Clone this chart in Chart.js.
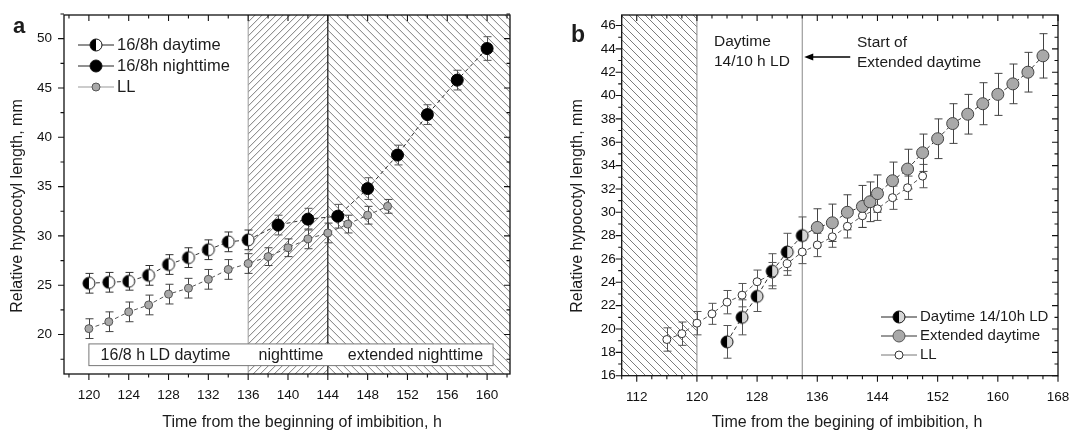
<!DOCTYPE html>
<html>
<head>
<meta charset="utf-8">
<script src="https://cdn.jsdelivr.net/npm/chart.js@4.4.1/dist/chart.umd.min.js"></script>
<style>
  html, body { margin: 0; padding: 0; background: #fff; }
  #wrap { position: relative; width: 1070px; height: 432px; }
  canvas { position: absolute; top: 0; }
</style>
</head>
<body>
<div id="wrap">
  <canvas id="chartA" width="535" height="432" style="left:0"></canvas>
  <canvas id="chartB" width="535" height="432" style="left:535px"></canvas>
</div>
<script>
// ---- panel a : 16/8 h LD ----
var timeDayA = [120, 122, 124, 126, 128, 130, 132, 134, 136];
var lenDayA  = [25.2, 25.3, 25.4, 26.0, 27.1, 27.8, 28.6, 29.4, 29.6];
var errDayA  = [1.0, 1.0, 0.9, 1.0, 1.0, 1.0, 1.0, 1.0, 1.0];
var timeNightA = [139, 142, 145, 148, 151, 154, 157, 160];
var lenNightA  = [31.1, 31.7, 32.0, 34.8, 38.2, 42.3, 45.8, 49.0];
var errNightA  = [1.0, 1.1, 1.2, 1.1, 1.0, 1.0, 1.0, 1.2];
var timeLLA = [120, 122, 124, 126, 128, 130, 132, 134, 136, 138, 140, 142, 144, 146, 148, 150];
var lenLLA  = [20.6, 21.3, 22.3, 23.0, 24.1, 24.7, 25.6, 26.6, 27.2, 27.9, 28.8, 29.7, 30.3, 31.2, 32.1, 33.0];
var errLLA  = [1.0, 1.0, 1.0, 1.0, 1.0, 1.0, 1.0, 1.0, 1.0, 0.9, 0.9, 1.0, 1.0, 0.9, 0.9, 0.7];
var xTicksA = [120, 124, 128, 132, 136, 140, 144, 148, 152, 156, 160];
var yTicksA = [20, 25, 30, 35, 40, 45, 50];
var legendA = ['16/8h daytime', '16/8h nighttime', 'LL'];
var periodsA = ['16/8 h LD daytime', 'nighttime', 'extended nighttime'];

// ---- panel b : 14/10 h LD ----
var timeDayB = [124, 126, 128, 130, 132, 134];
var lenDayB  = [18.9, 21.0, 22.8, 24.95, 26.6, 28.0];
var errDayB  = [1.4, 1.5, 1.3, 1.5, 1.6, 1.6];
var timeExtB = [136, 138, 140, 142, 143, 144, 146, 148, 150, 152, 154, 156, 158, 160, 162, 164, 166];
var lenExtB  = [28.7, 29.1, 30.0, 30.5, 30.9, 31.6, 32.7, 33.7, 35.1, 36.3, 37.6, 38.4, 39.3, 40.1, 41.0, 42.0, 43.4];
var errExtB  = [1.6, 1.6, 1.5, 1.8, 1.7, 1.6, 1.6, 1.7, 1.6, 1.7, 1.7, 1.7, 1.8, 1.8, 1.7, 1.7, 1.9];
var timeLLB = [116, 118, 120, 122, 124, 126, 128, 130, 132, 134, 136, 138, 140, 142, 144, 146, 148, 150];
var lenLLB  = [19.1, 19.6, 20.5, 21.3, 22.3, 22.9, 24.05, 24.7, 25.6, 26.6, 27.2, 27.9, 28.8, 29.7, 30.3, 31.25, 32.1, 33.1];
var errLLB  = [1.0, 1.0, 1.0, 0.9, 1.0, 1.0, 1.0, 1.0, 1.0, 1.0, 1.0, 0.9, 1.0, 1.0, 1.0, 1.0, 1.0, 1.0];
var xTicksB = [112, 120, 128, 136, 144, 152, 160, 168];
var yTicksB = [16, 18, 20, 22, 24, 26, 28, 30, 32, 34, 36, 38, 40, 42, 44, 46];
var legendB = ['Daytime 14/10h LD', 'Extended daytime', 'LL'];

var FONT = "'Liberation Sans', Arial, sans-serif";
var INK = '#1c1c1c';

function xy(t, v) {
  return t.map(function(x, i) { return { x: x, y: v[i] }; });
}

function steps(from, to, step) {
  var out = [];
  for (var v = from; v <= to + 1e-9; v += step) out.push(v);
  return out;
}

function drawMarker(ctx, kind, x, y, r) {
  ctx.save();
  ctx.lineWidth = 1;
  ctx.strokeStyle = '#111';
  ctx.beginPath();
  ctx.arc(x, y, r, 0, 2 * Math.PI);
  if (kind == 'half' || kind == 'halfGray') {
    ctx.fillStyle = kind == 'half' ? '#fff' : '#d6d6d6';
    ctx.fill();
    ctx.beginPath();
    ctx.arc(x, y, r, Math.PI / 2, 3 * Math.PI / 2);
    ctx.closePath();
    ctx.fillStyle = '#000';
    ctx.fill();
    ctx.beginPath();
    ctx.arc(x, y, r, 0, 2 * Math.PI);
  } else if (kind == 'black') {
    ctx.fillStyle = '#000';
    ctx.fill();
  } else if (kind == 'gray') {
    ctx.fillStyle = '#a9a9a9';
    ctx.strokeStyle = '#555';
    ctx.fill();
  } else {
    ctx.fillStyle = '#fff';
    ctx.strokeStyle = '#333';
    ctx.fill();
  }
  ctx.stroke();
  ctx.restore();
}

function markerCanvas(kind, r) {
  var c = document.createElement('canvas');
  c.width = c.height = 2 * r + 4;
  drawMarker(c.getContext('2d'), kind, r + 2, r + 2, r);
  return c;
}

function hatch(ctx, area, x1, x2, dir, gap) {
  var h = area.bottom - area.top;
  ctx.save();
  ctx.beginPath();
  ctx.rect(x1, area.top, x2 - x1, h);
  ctx.clip();
  ctx.strokeStyle = '#5a5a5a';
  ctx.lineWidth = 0.8;
  ctx.beginPath();
  for (var c = x1 - h; c <= x2 + h; c += gap) {
    if (dir > 0) { ctx.moveTo(c, area.bottom); ctx.lineTo(c + h, area.top); }
    else { ctx.moveTo(c, area.top); ctx.lineTo(c + h, area.bottom); }
  }
  ctx.stroke();
  ctx.restore();
}

function vline(chart, t, color, w) {
  var ctx = chart.ctx, a = chart.chartArea, px = chart.scales.x.getPixelForValue(t);
  ctx.save();
  ctx.strokeStyle = color;
  ctx.lineWidth = w;
  ctx.beginPath();
  ctx.moveTo(px, a.top);
  ctx.lineTo(px, a.bottom);
  ctx.stroke();
  ctx.restore();
}

function errorBars(chart, t, v, e, color) {
  var ctx = chart.ctx, xs = chart.scales.x, ys = chart.scales.y;
  ctx.save();
  ctx.strokeStyle = color;
  ctx.lineWidth = 1;
  ctx.beginPath();
  t.forEach(function(x, i) {
    var px = Math.round(xs.getPixelForValue(x)) + 0.5;
    var y1 = ys.getPixelForValue(v[i] + e[i]), y2 = ys.getPixelForValue(v[i] - e[i]);
    ctx.moveTo(px, y1); ctx.lineTo(px, y2);
    ctx.moveTo(px - 4, y1); ctx.lineTo(px + 4, y1);
    ctx.moveTo(px - 4, y2); ctx.lineTo(px + 4, y2);
  });
  ctx.stroke();
  ctx.restore();
}

// frame box with major/minor ticks: outward on bottom/left, inward on top/right
function frame(chart, xMajor, xMinor, yMajor, yMinor) {
  var ctx = chart.ctx, a = chart.chartArea, xs = chart.scales.x, ys = chart.scales.y;
  ctx.save();
  ctx.strokeStyle = '#111';
  ctx.lineWidth = 1.3;
  ctx.strokeRect(a.left, a.top, a.right - a.left, a.bottom - a.top);
  ctx.lineWidth = 1.1;
  ctx.beginPath();
  xMinor.forEach(function(v) {
    var L = xMajor.indexOf(v) >= 0 ? 6 : 3.5, px = xs.getPixelForValue(v);
    ctx.moveTo(px, a.bottom); ctx.lineTo(px, a.bottom + L);
    ctx.moveTo(px, a.top); ctx.lineTo(px, a.top + L);
  });
  yMinor.forEach(function(v) {
    var L = yMajor.indexOf(v) >= 0 ? 6 : 3.5, py = ys.getPixelForValue(v);
    ctx.moveTo(a.left, py); ctx.lineTo(a.left - L, py);
    ctx.moveTo(a.right, py); ctx.lineTo(a.right - L, py);
  });
  ctx.stroke();
  ctx.restore();
}

function text(ctx, s, x, y, size, opts) {
  opts = opts || {};
  ctx.save();
  ctx.fillStyle = INK;
  ctx.font = (opts.bold ? 'bold ' : '') + size + 'px ' + FONT;
  ctx.textAlign = opts.align || 'left';
  ctx.textBaseline = opts.baseline || 'alphabetic';
  ctx.translate(x, y);
  if (opts.rotate) ctx.rotate(opts.rotate);
  ctx.fillText(s, 0, 0);
  ctx.restore();
}

function legend(ctx, labels, kinds, radii, lineColors, x, y0, dy, size) {
  labels.forEach(function(lab, i) {
    var y = y0 + i * dy;
    ctx.save();
    ctx.strokeStyle = lineColors[i];
    ctx.lineWidth = 1;
    ctx.beginPath();
    ctx.moveTo(x, y); ctx.lineTo(x + 36, y);
    ctx.stroke();
    ctx.restore();
    drawMarker(ctx, kinds[i], x + 18, y, radii[i]);
    text(ctx, lab, x + 39, y, size, { baseline: 'middle' });
  });
}

function scaleOpts(min, max, ticks, fit, pad) {
  return {
    type: 'linear', min: min, max: max,
    afterBuildTicks: function(s) { s.ticks = ticks.map(function(v) { return { value: v }; }); },
    afterFit: function(s) {
      fit(s);
      // keep the plot box fixed: no extra room for overhanging end labels
      s.paddingLeft = s.paddingRight = s.paddingTop = s.paddingBottom = 0;
    },
    grid: { display: false, drawTicks: false },
    border: { display: false },
    ticks: { padding: pad, color: '#111', font: { family: FONT, size: 13.5 } }
  };
}

var halfWhite = markerCanvas('half', 6);
var halfGray = markerCanvas('halfGray', 6);

var decorA = {
  id: 'decorA',
  beforeDatasetsDraw: function(chart) {
    var ctx = chart.ctx, a = chart.chartArea, xs = chart.scales.x, ys = chart.scales.y;
    hatch(ctx, a, xs.getPixelForValue(136), xs.getPixelForValue(144), 1, 7);
    hatch(ctx, a, xs.getPixelForValue(144), a.right, -1, 8);
    vline(chart, 136, '#9a9a9a', 1);
    vline(chart, 144, '#111', 1.2);
    // period label box
    var bx1 = xs.getPixelForValue(120), bx2 = xs.getPixelForValue(160.6);
    var by1 = ys.getPixelForValue(19.05), by2 = ys.getPixelForValue(16.85);
    ctx.save();
    ctx.fillStyle = '#fff';
    ctx.strokeStyle = '#777';
    ctx.lineWidth = 1;
    ctx.fillRect(bx1, by1, bx2 - bx1, by2 - by1);
    ctx.strokeRect(bx1, by1, bx2 - bx1, by2 - by1);
    ctx.restore();
    var my = (by1 + by2) / 2 + 1;
    text(ctx, periodsA[0], xs.getPixelForValue(127.7), my, 16, { align: 'center', baseline: 'middle' });
    text(ctx, periodsA[1], xs.getPixelForValue(140.3), my, 16, { align: 'center', baseline: 'middle' });
    text(ctx, periodsA[2], xs.getPixelForValue(152.8), my, 16, { align: 'center', baseline: 'middle' });
    errorBars(chart, timeLLA, lenLLA, errLLA, '#444');
    errorBars(chart, timeDayA, lenDayA, errDayA, '#333');
    errorBars(chart, timeNightA, lenNightA, errNightA, '#555');
  },
  afterDraw: function(chart) {
    var ctx = chart.ctx;
    frame(chart, xTicksA, steps(118, 162, 2), yTicksA, steps(17.5, 52.5, 2.5));
    legend(ctx, legendA, ['half', 'black', 'gray'], [6, 6, 4], ['#222', '#222', '#999'], 78, 45, 21, 16.5);
    text(ctx, 'Relative hypocotyl length, mm', 17.5, 206, 16, { align: 'center', baseline: 'middle', rotate: -Math.PI / 2 });
    text(ctx, 'Time from the beginning of imbibition, h', 302, 427, 16, { align: 'center' });
    text(ctx, 'a', 13, 33, 22, { bold: true });
  }
};

var decorB = {
  id: 'decorB',
  beforeDatasetsDraw: function(chart) {
    var ctx = chart.ctx, a = chart.chartArea, xs = chart.scales.x;
    hatch(ctx, a, a.left, xs.getPixelForValue(120), -1, 8);
    vline(chart, 120, '#888', 1);
    vline(chart, 134, '#888', 1);
    errorBars(chart, timeLLB, lenLLB, errLLB, '#555');
    errorBars(chart, timeExtB, lenExtB, errExtB, '#444');
    errorBars(chart, timeDayB, lenDayB, errDayB, '#555');
  },
  afterDraw: function(chart) {
    var ctx = chart.ctx, xs = chart.scales.x;
    frame(chart, xTicksB, steps(110, 168, 2), yTicksB, steps(16, 46, 1));
    legend(ctx, legendB, ['halfGray', 'gray', 'open'], [6, 6, 4], ['#222', '#333', '#777'], 346, 317, 19, 15);
    text(ctx, 'Daytime', 179, 46, 15.5);
    text(ctx, '14/10 h LD', 179, 66, 15.5);
    text(ctx, 'Start of', 322, 47, 15.5);
    text(ctx, 'Extended daytime', 322, 67, 15.5);
    // arrow to the start of extended daytime
    var ax = xs.getPixelForValue(134) + 2;
    ctx.save();
    ctx.strokeStyle = '#000';
    ctx.fillStyle = '#000';
    ctx.lineWidth = 1.6;
    ctx.beginPath();
    ctx.moveTo(ax + 46, 57); ctx.lineTo(ax + 6, 57);
    ctx.stroke();
    ctx.beginPath();
    ctx.moveTo(ax, 57); ctx.lineTo(ax + 9, 53.5); ctx.lineTo(ax + 9, 60.5);
    ctx.closePath();
    ctx.fill();
    ctx.restore();
    text(ctx, 'Relative hypocotyl length, mm', 42.5, 206, 16, { align: 'center', baseline: 'middle', rotate: -Math.PI / 2 });
    text(ctx, 'Time from the begining of imbibition, h', 312, 427, 16, { align: 'center' });
    text(ctx, 'b', 36, 41.5, 23, { bold: true });
  }
};

var lineStyle = { showLine: true, borderWidth: 1, borderDash: [4, 3], pointBorderWidth: 1 };

function ds(o) { return Object.assign({}, lineStyle, o); }

new Chart(document.getElementById('chartA'), {
  type: 'scatter',
  data: {
    datasets: [
      ds({ label: legendA[0], data: xy(timeDayA, lenDayA), pointStyle: halfWhite, pointRadius: 6, borderColor: '#333' }),
      ds({ label: legendA[1],
           data: xy([timeDayA[timeDayA.length - 1]].concat(timeNightA), [lenDayA[lenDayA.length - 1]].concat(lenNightA)),
           pointRadius: [0].concat(timeNightA.map(function() { return 6; })),
           pointBackgroundColor: '#000', pointBorderColor: '#000', borderColor: '#333' }),
      ds({ label: legendA[2], data: xy(timeLLA, lenLLA), pointRadius: 4,
           pointBackgroundColor: '#a9a9a9', pointBorderColor: '#555', borderColor: '#555' })
    ]
  },
  options: {
    responsive: false, animation: false, devicePixelRatio: 1,
    layout: { padding: { left: 0, right: 25, top: 15, bottom: 0 } },
    plugins: { legend: { display: false }, tooltip: { enabled: false } },
    scales: {
      x: scaleOpts(117.5, 162.3, xTicksA, function(s) { s.height = 58; }, 13),
      y: scaleOpts(16, 52.4, yTicksA, function(s) { s.width = 64; }, 12)
    }
  },
  plugins: [decorA]
});

new Chart(document.getElementById('chartB'), {
  type: 'scatter',
  data: {
    datasets: [
      ds({ label: legendB[0], data: xy(timeDayB, lenDayB), pointStyle: halfGray, pointRadius: 6, borderColor: '#333' }),
      ds({ label: legendB[1],
           data: xy([timeDayB[timeDayB.length - 1]].concat(timeExtB), [lenDayB[lenDayB.length - 1]].concat(lenExtB)),
           pointRadius: [0].concat(timeExtB.map(function() { return 6; })),
           pointBackgroundColor: '#a9a9a9', pointBorderColor: '#444', borderColor: '#333' }),
      ds({ label: legendB[2], data: xy(timeLLB, lenLLB), pointRadius: 4,
           pointBackgroundColor: '#fff', pointBorderColor: '#333', borderColor: '#555' })
    ]
  },
  options: {
    responsive: false, animation: false, devicePixelRatio: 1,
    layout: { padding: { left: 0, right: 12, top: 15, bottom: 0 } },
    plugins: { legend: { display: false }, tooltip: { enabled: false } },
    scales: {
      x: scaleOpts(110, 168, xTicksB, function(s) { s.height = 56.3; }, 13),
      y: scaleOpts(16, 46.9, yTicksB, function(s) { s.width = 86.7; }, 6)
    }
  },
  plugins: [decorB]
});
</script>
</body>
</html>
